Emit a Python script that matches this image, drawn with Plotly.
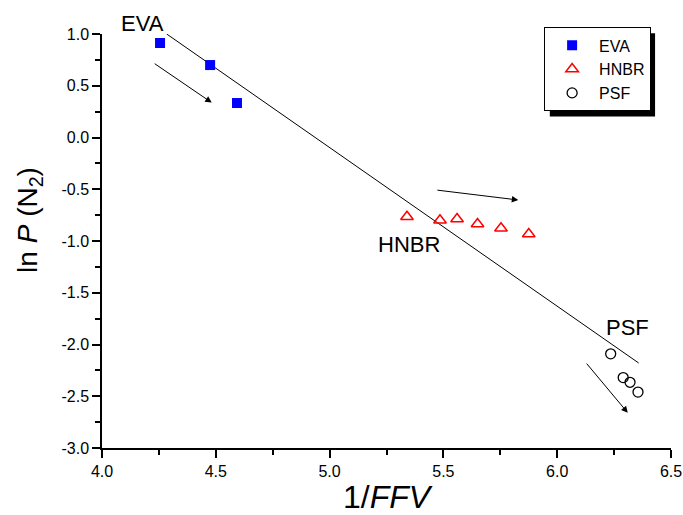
import plotly.graph_objects as go

eva_x = [4.255, 4.475, 4.593]
eva_y = [0.913, 0.70, 0.333]
hnbr_x = [5.34, 5.485, 5.56, 5.65, 5.753, 5.875]
hnbr_y = [-0.765, -0.80, -0.787, -0.836, -0.877, -0.932]
psf_x = [6.235, 6.29, 6.32, 6.355]
psf_y = [-2.09, -2.32, -2.365, -2.46]

fit_slope = -1.533
fit_intercept = 7.568
fit_x = [4.284, 6.358]
fit_y = [fit_intercept + fit_slope * v for v in fit_x]

arrows = [  # (x_tail, y_tail, x_head, y_head)
    (4.225, 0.723, 4.482, 0.337),
    (5.467, -0.507, 5.829, -0.604),
    (6.124, -2.17, 6.31, -2.66),
]
labels = [("HNBR", 5.35, -1.03), ("PSF", 6.31, -1.84)]
eva_label = ("EVA", 4.18)

xticks = [4.0, 4.5, 5.0, 5.5, 6.0, 6.5]
xticktext = ["4.0", "4.5", "5.0", "5.5", "6.0", "6.5"]
yticks = [1.0, 0.5, 0.0, -0.5, -1.0, -1.5, -2.0, -2.5, -3.0]
yticktext = ["1.0", "0.5", "0.0", "-0.5", "-1.0", "-1.5", "-2.0", "-2.5", "-3.0"]

font = "Liberation Sans, Arial, sans-serif"

fig = go.Figure()
fig.add_trace(go.Scatter(x=fit_x, y=fit_y, mode="lines", line=dict(color="black", width=1),
                         showlegend=False, hoverinfo="skip"))
fig.add_trace(go.Scatter(x=eva_x, y=eva_y, mode="markers", name="EVA",
                         marker=dict(symbol="square", size=10, color="#0000ff", line=dict(width=0))))
fig.add_trace(go.Scatter(x=hnbr_x, y=hnbr_y, mode="markers", name="HNBR",
                         marker=dict(symbol="triangle-up-open", size=11, color="#ff0000", line=dict(width=1.5))))
fig.add_trace(go.Scatter(x=psf_x, y=psf_y, mode="markers", name="PSF",
                         marker=dict(symbol="circle-open", size=10, color="black", line=dict(width=1.3))))

for (x0, y0, x1, y1) in arrows:
    fig.add_annotation(x=x1, y=y1, ax=x0, ay=y0, xref="x", yref="y", axref="x", ayref="y",
                       text="", showarrow=True, arrowhead=2, arrowsize=1.3, arrowwidth=1,
                       arrowcolor="black")
for (t, x, y) in labels:
    fig.add_annotation(x=x, y=y, xref="x", yref="y", text=t, showarrow=False,
                       font=dict(family=font, size=22, color="black"))
fig.add_annotation(x=eva_label[1], y=1.0, xref="x", yref="paper", yshift=11, text=eva_label[0],
                   xanchor="center", yanchor="middle",
                   showarrow=False, font=dict(family=font, size=22, color="black"))

# y-axis title
fig.add_annotation(x=0, y=0.551, xref="paper", yref="paper", xshift=-72,
                   xanchor="center", yanchor="middle",
                   text="ln <i>P</i> (N<sub>2</sub>)", textangle=-90, showarrow=False,
                   font=dict(family=font, size=28, color="black"))

# legend shadow
fig.add_shape(type="rect", xref="paper", yref="paper", x0=0.787, x1=0.972, y0=0.801, y1=1.002,
              fillcolor="black", line=dict(width=0), layer="above")

fig.update_layout(
    autosize=True,
    margin=dict(l=102, r=12, t=34, b=67, autoexpand=False),
    paper_bgcolor="white", plot_bgcolor="white",
    font=dict(family=font, color="black"),
    legend=dict(x=0.777, y=1.016, xanchor="left", yanchor="top",
                bgcolor="white", bordercolor="black", borderwidth=1,
                font=dict(family=font, size=16, color="black"),
                tracegroupgap=0, itemwidth=44),
    xaxis=dict(range=[4.0, 6.5], tickvals=xticks, ticktext=xticktext, automargin=False,
               showgrid=False, zeroline=False, showline=True, linecolor="black", linewidth=1.5,
               ticks="outside", ticklen=8, tickwidth=1.5, tickcolor="black",
               tickfont=dict(family=font, size=16),
               minor=dict(dtick=0.25, tick0=4.0, ticks="outside", ticklen=5, tickwidth=1.5,
                          tickcolor="black", showgrid=False),
               title=dict(text="1/<i>FFV</i>", font=dict(family=font, size=32), standoff=13)),
    yaxis=dict(range=[-3.0, 1.0], tickvals=yticks, ticktext=yticktext, automargin=False,
               showgrid=False, zeroline=False, showline=True, linecolor="black", linewidth=1.5,
               ticks="outside", ticklen=8, tickwidth=1.5, tickcolor="black",
               tickfont=dict(family=font, size=16),
               minor=dict(dtick=0.25, tick0=-3.0, ticks="outside", ticklen=5, tickwidth=1.5,
                          tickcolor="black", showgrid=False)),
)

fig.write_html("out.html")
